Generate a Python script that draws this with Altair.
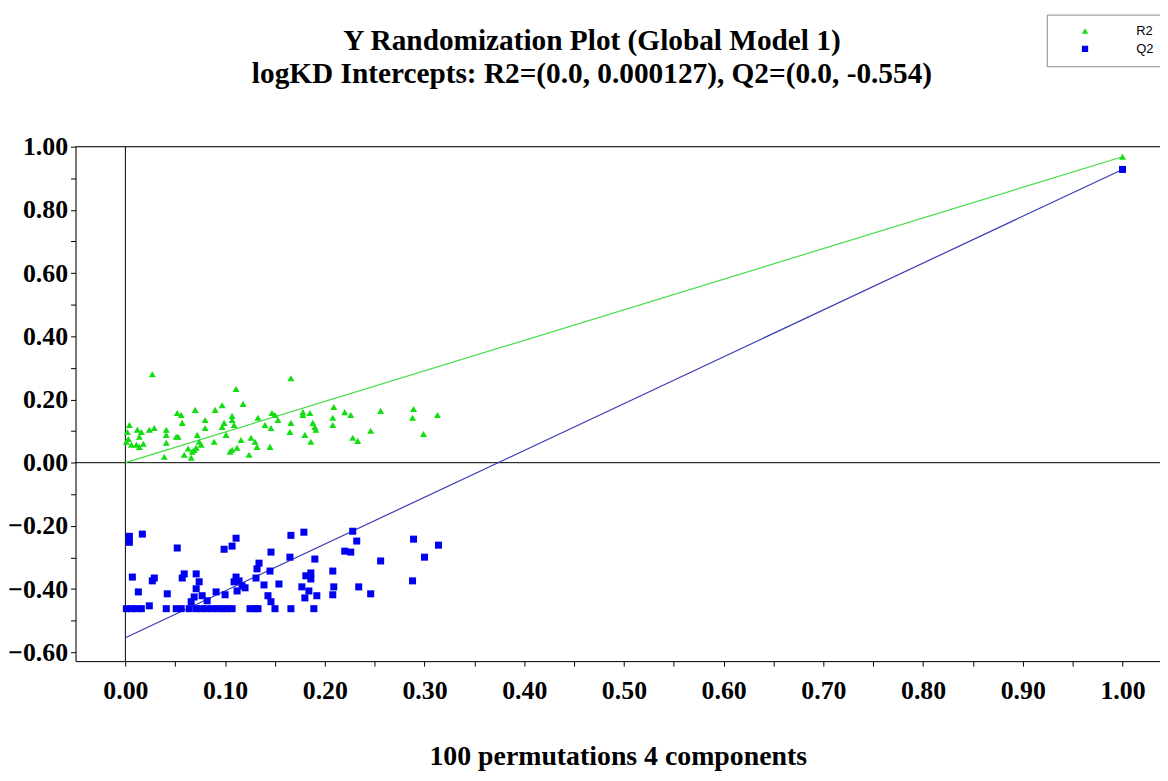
import altair as alt
import pandas as pd

# ---- data ----
r2_x = [0.027, 0.166, 0.111, 0.118, 0.097, 0.090, 0.070, 0.052, 0.056, 0.057,
        0.080, 0.080, 0.099, 0.097, 0.107, 0.107, 0.109, 0.133, 0.147, 0.150,
        0.153, 0.140, 0.146, 0.166, 0.165, 0.178, 0.178, 0.185, 0.188, 0.190,
        0.191, 0.180, 0.186, 0.209, 0.208, 0.208, 0.220, 0.226, 0.228, 0.233,
        0.246, 0.256, 0.289, 0.288, 0.299, 0.313, 0.004, 0.002, 0.001, 0.006,
        0.011, 0.014, 0.012, 0.016, 0.014, 0.024, 0.029, 0.041, 0.041, 0.041,
        0.051, 0.053, 0.039, 0.059, 0.066, 0.067, 0.071, 0.072, 0.074, 0.076,
        0.089, 0.101, 0.107, 0.112, 0.116, 0.126, 0.130, 0.124, 0.132, 0.145,
        0.105, 0.003, 0.018, 0.063, 0.069]
r2_y = [0.280, 0.267, 0.233, 0.186, 0.182, 0.167, 0.167, 0.157, 0.151, 0.126,
        0.135, 0.110, 0.126, 0.113, 0.148, 0.135, 0.119, 0.142, 0.157, 0.151,
        0.135, 0.119, 0.110, 0.126, 0.097, 0.160, 0.151, 0.157, 0.126, 0.113,
        0.104, 0.088, 0.066, 0.176, 0.142, 0.119, 0.160, 0.151, 0.079, 0.069,
        0.101, 0.164, 0.170, 0.142, 0.091, 0.151, 0.119, 0.097, 0.066, 0.057,
        0.057, 0.050, 0.104, 0.097, 0.082, 0.104, 0.110, 0.104, 0.088, 0.063,
        0.082, 0.082, 0.019, 0.025, 0.016, 0.035, 0.047, 0.088, 0.066, 0.057,
        0.066, 0.088, 0.041, 0.047, 0.072, 0.079, 0.066, 0.025, 0.050, 0.050,
        0.035, 0.075, 0.060, 0.045, 0.040]

q2_x = [0.004, 0.004, 0.017, 0.052, 0.099, 0.107, 0.111, 0.166, 0.179, 0.228,
        0.232, 0.289, 0.314, 0.146, 0.220, 0.226, 0.165, 0.190, 0.256, 0.300,
        0.134, 0.132, 0.145, 0.186, 0.181, 0.186, 0.208, 0.288, 0.007, 0.027,
        0.029, 0.057, 0.059, 0.071, 0.074, 0.071, 0.111, 0.109, 0.114, 0.117,
        0.120, 0.112, 0.131, 0.139, 0.154, 0.177, 0.184, 0.192, 0.180, 0.209,
        0.208, 0.234, 0.246, 0.013, 0.042, 0.091, 0.100, 0.069, 0.077, 0.082,
        0.143, 0.146, 0.066, 0.024,
        0.001, 0.006, 0.011, 0.016, 0.041, 0.051, 0.056, 0.064, 0.071, 0.076,
        0.081, 0.087, 0.092, 0.097, 0.101, 0.107, 0.125, 0.130, 0.133, 0.150,
        0.166, 0.189]
q2_y = [-0.233, -0.252, -0.226, -0.270, -0.274, -0.264, -0.239, -0.230, -0.220, -0.217,
        -0.248, -0.242, -0.261, -0.283, -0.280, -0.283, -0.299, -0.305, -0.311, -0.299,
        -0.318, -0.336, -0.343, -0.349, -0.358, -0.368, -0.343, -0.374, -0.362, -0.374,
        -0.365, -0.365, -0.352, -0.352, -0.377, -0.399, -0.362, -0.377, -0.374, -0.390,
        -0.396, -0.406, -0.365, -0.387, -0.384, -0.393, -0.406, -0.421, -0.428, -0.393,
        -0.418, -0.393, -0.415, -0.409, -0.415, -0.409, -0.418, -0.425, -0.421, -0.437,
        -0.421, -0.440, -0.440, -0.453,
        -0.462, -0.462, -0.462, -0.462, -0.462, -0.462, -0.462, -0.462, -0.462, -0.462,
        -0.462, -0.462, -0.462, -0.462, -0.462, -0.462, -0.462, -0.462, -0.462, -0.462,
        -0.462, -0.462]

model_x = [1.0]
model_r2 = [0.968]
model_q2 = [0.928]

line_x = [0.0, 1.0]
r2_line_y = [0.000127, 0.968]
q2_line_y = [-0.554, 0.928]

x_ticks = [0.0, 0.05, 0.1, 0.15, 0.2, 0.25, 0.3, 0.35, 0.4, 0.45, 0.5,
           0.55, 0.6, 0.65, 0.7, 0.75, 0.8, 0.85, 0.9, 0.95, 1.0]
y_ticks = [-0.6, -0.5, -0.4, -0.3, -0.2, -0.1, 0.0, 0.1, 0.2, 0.3, 0.4,
           0.5, 0.6, 0.7, 0.8, 0.9, 1.0]

series_names = ["R2", "Q2"]
title_lines = ["Y Randomization Plot (Global Model 1)",
               "logKD Intercepts: R2=(0.0, 0.000127), Q2=(0.0, -0.554)"]
x_title = "100 permutations 4 components"

# ---- tables ----
pts = pd.DataFrame({
    "x": r2_x + model_x + q2_x + model_x,
    "y": r2_y + model_r2 + q2_y + model_q2,
    "series": ["R2"] * (len(r2_x) + 1) + ["Q2"] * (len(q2_x) + 1),
})
r2_line = pd.DataFrame({"x": line_x, "y": r2_line_y})
q2_line = pd.DataFrame({"x": line_x, "y": q2_line_y})
hrules = pd.DataFrame({"y": [0.0, 1.0]})
vrules = pd.DataFrame({"x": [0.0]})

SERIF = "Liberation Serif"
xscale = alt.Scale(domain=[-0.05, 1.0376], nice=False, zero=False)
yscale = alt.Scale(domain=[-0.628, 1.0], nice=False, zero=False)

xaxis = alt.Axis(values=x_ticks,
                 labelExpr="round(datum.value*20) % 2 == 0 ? format(datum.value, '.2f') : ''",
                 title=x_title, titleFont=SERIF, titleFontSize=28, titleFontWeight="bold",
                 titleColor="black", titlePadding=39,
                 labelFont=SERIF, labelFontSize=26, labelFontWeight="bold", labelColor="black",
                 labelPadding=12, labelOverlap=False, labelFlush=False,
                 tickSize=5, tickColor="black", domainColor="black", grid=False)
yaxis = alt.Axis(values=y_ticks,
                 labelExpr="round(datum.value*10) % 2 == 0 ? format(datum.value, '.2f') : ''",
                 title=None,
                 labelFont=SERIF, labelFontSize=26, labelFontWeight="bold", labelColor="black",
                 labelPadding=3, labelOverlap=False, labelFlush=False,
                 tickSize=5, tickColor="black", domainColor="black", grid=False)

X = alt.X("x:Q", scale=xscale, axis=xaxis)
Y = alt.Y("y:Q", scale=yscale, axis=yaxis)

hr = alt.Chart(hrules).mark_rule(color="black", strokeWidth=1).encode(y=Y)
vr = alt.Chart(vrules).mark_rule(color="black", strokeWidth=1).encode(x=X)

l_r2 = alt.Chart(r2_line).mark_line(color="#44dd44", strokeWidth=1.2).encode(x=X, y=Y)
l_q2 = alt.Chart(q2_line).mark_line(color="#3a3ab4", strokeWidth=1.2).encode(x=X, y=Y)

legend = alt.Legend(orient="none", legendX=978, legendY=-133, title=None,
                    padding=10, symbolOffset=22, labelOffset=45,
                    labelFont="Liberation Sans", labelFontSize=13, labelColor="black",
                    rowPadding=4, fillColor="white", strokeColor="#888888",
                    symbolSize=40)

points = alt.Chart(pts).mark_point(filled=True, size=50, opacity=1).encode(
    x=X, y=Y,
    color=alt.Color("series:N", scale=alt.Scale(domain=series_names, range=["#11dd11", "#0000f0"]),
                    legend=legend),
    shape=alt.Shape("series:N", scale=alt.Scale(domain=series_names, range=["triangle-up", "square"]),
                    legend=legend),
)

chart = alt.layer(hr, vr, l_r2, l_q2, points).properties(
    width=1092, height=518,
    autosize=alt.AutoSizeParams(type="none"),
    padding={"left": 68, "top": 137, "right": 0, "bottom": 110},
    title=alt.TitleParams(text=title_lines, font=SERIF, fontSize=29.5, fontWeight="bold",
                          color="black", anchor="middle", dx=-26, offset=-76, lineHeight=33),
).configure_view(stroke=None).configure(background="white")

chart.save("out.html", embed_options={"renderer": "svg", "actions": False})
